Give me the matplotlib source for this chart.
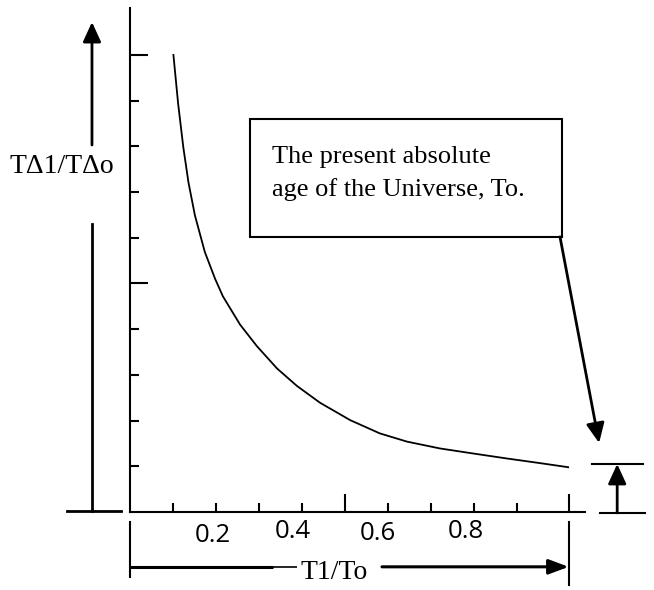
import matplotlib
matplotlib.use("Agg")
import matplotlib.pyplot as plt
from matplotlib.patches import Rectangle

# ratio of time intervals TΔ1/TΔo against the age ratio T1/To
t_ratio = [0.101, 0.112, 0.124, 0.136, 0.151, 0.174, 0.198, 0.216, 0.256, 0.295, 0.342,
           0.388, 0.442, 0.512, 0.581, 0.644, 0.721, 0.798, 0.877, 0.953, 1.019]
dt_ratio = [10.00, 8.93, 7.98, 7.21, 6.49, 5.69, 5.10, 4.72, 4.10, 3.63, 3.14,
            2.76, 2.39, 2.01, 1.72, 1.54, 1.39, 1.28, 1.17, 1.07, 0.98]

x_minor = [0.1, 0.2, 0.3, 0.4, 0.6, 0.7, 0.8, 0.9]
x_major = [0.5, 1.02]
y_minor = [1, 2, 3, 4, 6, 7, 8, 9]
y_major = [5, 10]
x_labels = ["0.2", "0.4", "0.6", "0.8"]
x_label_pos = [0.193, 0.378, 0.577, 0.781]
x_label_y = [-0.52, -0.42, -0.47, -0.42]

SERIF = "Liberation Serif"
SANS = "Open Sans"

fig = plt.figure(figsize=(6.54, 5.9), dpi=100)
ax = fig.add_axes([0, 0, 1, 1])
ax.set_xlim(-0.3023, 1.2186)
ax.set_ylim(-1.707, 11.203)

# axes drawn as bare spines through the origin
for side in ("top", "right"):
    ax.spines[side].set_visible(False)
ax.spines["left"].set_position(("data", 0))
ax.spines["bottom"].set_position(("data", 0))
ax.spines["left"].set_bounds(0, 11.03)
ax.spines["bottom"].set_bounds(0, 1.058)
for side in ("left", "bottom"):
    ax.spines[side].set_linewidth(1.5)

ax.set_xticks(x_major)
ax.set_xticks(x_minor, minor=True)
ax.set_yticks(y_major)
ax.set_yticks(y_minor, minor=True)
ax.tick_params(which="both", direction="in", width=1.5, color="black",
               labelbottom=False, labelleft=False)
ax.tick_params(which="major", length=13)
ax.tick_params(which="minor", length=6.5)

for lab, xp, yp in zip(x_labels, x_label_pos, x_label_y):
    ax.text(xp, yp, lab, family=SANS, fontsize=18.5, ha="center", va="center")

# the curve
ax.plot(t_ratio, dt_ratio, color="black", lw=1.3, solid_joinstyle="round")

# vertical axis label with its arrow
ax.annotate("", xy=(-0.0884, 10.72), xytext=(-0.0884, 8.03),
            arrowprops=dict(arrowstyle="-|>,head_length=1.2,head_width=0.55",
                            mutation_scale=10, lw=2, color="black",
                            shrinkA=0, shrinkB=0))
ax.plot([-0.0884, -0.0884], [6.30, 0.02], color="black", lw=2)
ax.plot([-0.1465, -0.0209], [0.02, 0.02], color="black", lw=2)
ax.text(-0.158, 7.55, "TΔ1/TΔo", family=SERIF, fontsize=20,
        ha="center", va="center")

# horizontal axis label with its span arrow
ax.plot([0, 0], [-0.22, -1.42], color="black", lw=1.5)
ax.plot([1.02, 1.02], [-0.22, -1.60], color="black", lw=1.5)
ax.plot([0, 0.333], [-1.20, -1.20], color="black", lw=2.2, solid_capstyle="butt")
ax.plot([0.333, 0.388], [-1.20, -1.20], color="black", lw=1.2, solid_capstyle="butt")
ax.annotate("", xy=(1.02, -1.20), xytext=(0.586, -1.20),
            arrowprops=dict(arrowstyle="-|>,head_length=1.2,head_width=0.45",
                            mutation_scale=10, lw=2.2, color="black",
                            shrinkA=0, shrinkB=0))
ax.text(0.474, -1.33, "T1/To", family=SERIF, fontsize=20,
        ha="center", va="center")

# callout box
ax.add_patch(Rectangle((0.279, 6.02), 0.726, 2.59, fill=False,
                       edgecolor="black", lw=1.5))
ax.text(0.330, 7.64, "The present absolute", family=SERIF, fontsize=19,
        ha="left", va="baseline")
ax.text(0.330, 6.91, "age of the Universe, To.", family=SERIF, fontsize=19,
        ha="left", va="baseline")
ax.annotate("", xy=(1.091, 1.51), xytext=(1.0, 6.02),
            arrowprops=dict(arrowstyle="-|>,head_length=1.2,head_width=0.55",
                            mutation_scale=10, lw=2, color="black",
                            shrinkA=0, shrinkB=0))

# bracket showing the present interval TΔo at T1/To = 1
ax.plot([1.074, 1.193], [dt_ratio[-1] + 0.07] * 2, color="black", lw=1.5)
ax.plot([1.093, 1.198], [-0.02, -0.02], color="black", lw=1.5)
ax.annotate("", xy=(1.133, dt_ratio[-1] + 0.07), xytext=(1.133, -0.02),
            arrowprops=dict(arrowstyle="-|>,head_length=1.2,head_width=0.55",
                            mutation_scale=10, lw=2, color="black",
                            shrinkA=0, shrinkB=0))

fig.savefig("out.png", dpi=100)
